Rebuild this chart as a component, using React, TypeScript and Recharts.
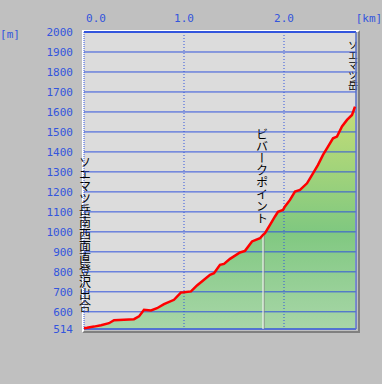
import React from "react";
import {
  ComposedChart,
  Area,
  Line,
  XAxis,
  YAxis,
  CartesianGrid,
  ReferenceLine,
} from "recharts";

// distance along the route [km]
const distances = [
  0, 0.03, 0.1, 0.17, 0.25, 0.3, 0.4, 0.5, 0.55, 0.6, 0.67, 0.73, 0.8, 0.9,
  0.97, 1.0, 1.07, 1.13, 1.2, 1.26, 1.3, 1.36, 1.4, 1.46, 1.56, 1.61, 1.68,
  1.76, 1.79, 1.81, 1.86, 1.91, 1.94, 1.99, 2.01, 2.06, 2.11, 2.16, 2.23,
  2.29, 2.34, 2.39, 2.44, 2.49, 2.53, 2.58, 2.63, 2.68, 2.71,
];
// elevation [m]
const elevations = [
  518, 520, 526, 533, 543, 558, 560, 563, 577, 610, 607, 618, 638, 660, 697,
  698, 702, 732, 760, 785, 793, 835, 840, 865, 897, 905, 952, 968, 985, 993,
  1035, 1077, 1100, 1110, 1127, 1160, 1202, 1210, 1243, 1293, 1335, 1385, 1427,
  1468, 1477, 1527, 1560, 1585, 1627,
];

const xTicks = [0, 1, 2];
const xTickLabels = ["0.0", "1.0", "2.0"];
const yTicks = [514, 600, 700, 800, 900, 1000, 1100, 1200, 1300, 1400, 1500, 1600, 1700, 1800, 1900, 2000];
const gridLines = yTicks.slice(1);

const startLabel = "ソエマツ岳南西面直登沢出合";
const summitLabel = "ソエマツ岳";
const bivouacLabel = "ビバークポイント";
const bivouacKm = 1.79;
const bivouacElev = 985;

const data = distances.map((d, i) => ({ km: d, elev: elevations[i] }));

const BLUE = "#3355dd";
const MONO = "'DejaVu Sans Mono', monospace";
const JP = "'Noto Sans CJK JP', sans-serif";

const XTick = (props: any) => {
  const { x, payload, index } = props;
  return (
    <text
      x={x + (index === 0 ? 12 : 0)}
      y={22}
      textAnchor="middle"
      fill={BLUE}
      fontSize={11}
      fontFamily={MONO}
    >
      {xTickLabels[index] ?? payload.value}
    </text>
  );
};

const YTick = (props: any) => {
  const { y, payload } = props;
  return (
    <text
      x={73}
      y={y + 4}
      textAnchor="end"
      fill={BLUE}
      fontSize={11}
      fontFamily={MONO}
    >
      {payload.value}
    </text>
  );
};

const vtext = (txt: string, x: number, y: number, size: number) => (
  <text
    x={x}
    y={y}
    fontSize={size}
    fontFamily={JP}
    fill="#000"
    style={{ writingMode: "vertical-rl" } as any}
  >
    {txt}
  </text>
);

export default function App() {
  return (
    <div
      style={{
        position: "absolute",
        left: 0,
        top: 0,
        width: 382,
        height: 384,
        background: "#c0c0c0",
      }}
    >
      {/* plot frame */}
      <div
        style={{
          position: "absolute",
          left: 82,
          top: 30,
          width: 274,
          height: 299,
          borderTop: "2px solid #fff",
          borderLeft: "2px solid #fff",
          borderRight: "2px solid #808080",
          borderBottom: "2px solid #808080",
        }}
      />
      <div style={{ position: "absolute", left: 0, top: 0 }}>
        <ComposedChart
          width={382}
          height={384}
          data={data}
          margin={{ top: 0, right: 26, bottom: 55, left: 0 }}
        >
          <defs>
            <linearGradient id="hill" gradientUnits="userSpaceOnUse" x1="0" y1="329" x2="0" y2="112">
              <stop offset="0" stopColor="#a8d6a8" />
              <stop offset="0.45" stopColor="#80c880" />
              <stop offset="0.75" stopColor="#a4d47a" />
              <stop offset="1" stopColor="#c2dc78" />
            </linearGradient>
          </defs>
          <CartesianGrid fill="#dcdcdc" horizontal={false} vertical={false} />
          <XAxis
            dataKey="km"
            type="number"
            orientation="top"
            height={32}
            domain={[0, 2.72]}
            ticks={xTicks}
            axisLine={false}
            tickLine={false}
            tick={<XTick />}
          />
          <YAxis
            type="number"
            width={84}
            domain={[514, 2000]}
            ticks={yTicks}
            axisLine={false}
            tickLine={false}
            tick={<YTick />}
            interval={0}
          />
          <Area
            dataKey="elev"
            type="linear"
            stroke="none"
            fill="url(#hill)"
            fillOpacity={1}
            baseValue={514}
            isAnimationActive={false}
            zIndex={100}
          />
          {gridLines.map((v) => (
            <ReferenceLine key={v} y={v} stroke={BLUE} strokeWidth={v === 2000 ? 2 : 1} zIndex={200} />
          ))}
          <ReferenceLine y={514} stroke={BLUE} strokeWidth={1.5} zIndex={200} />
          <ReferenceLine x={0} stroke={BLUE} strokeDasharray="1 1" zIndex={200} />
          <ReferenceLine x={1} stroke={BLUE} strokeDasharray="1 2" zIndex={200} />
          <ReferenceLine x={2} stroke={BLUE} strokeDasharray="1 2" zIndex={200} />
          <ReferenceLine x={2.72} stroke="#5870c8" strokeWidth={1.5} zIndex={200} />
          <ReferenceLine
            segment={[
              { x: bivouacKm + 0.01, y: 514 },
              { x: bivouacKm + 0.01, y: bivouacElev },
            ]}
            stroke="#808080"
            zIndex={250}
          />
          <ReferenceLine
            segment={[
              { x: bivouacKm, y: 514 },
              { x: bivouacKm, y: bivouacElev },
            ]}
            stroke="#ffffff"
            zIndex={250}
          />
          <Line
            dataKey="elev"
            type="linear"
            stroke="#ff0000"
            strokeWidth={2.5}
            dot={false}
            isAnimationActive={false}
            zIndex={300}
          />
          <text x={369} y={22} textAnchor="middle" fill={BLUE} fontSize={11} fontFamily={MONO}>
            [km]
          </text>
          <text x={10} y={38} textAnchor="middle" fill={BLUE} fontSize={11} fontFamily={MONO}>
            [m]
          </text>
          {vtext(startLabel, 85, 156, 12)}
          {vtext(bivouacLabel, 262, 128, 12)}
          {vtext(summitLabel, 353, 40, 10)}
        </ComposedChart>
      </div>
    </div>
  );
}
